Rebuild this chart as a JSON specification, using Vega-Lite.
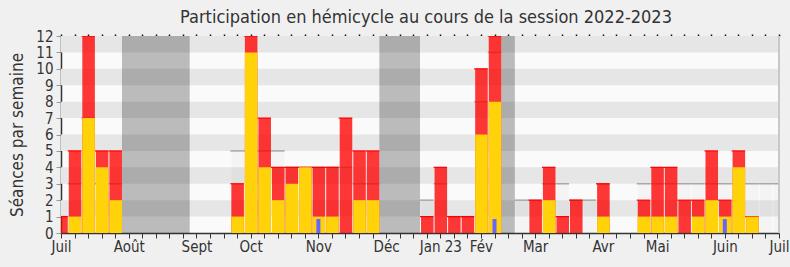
{
  "$schema": "https://vega.github.io/schema/vega-lite/v6.json",
  "width": 718,
  "height": 197,
  "autosize": "none",
  "padding": {"left": 61, "top": 36, "right": 11, "bottom": 34},
  "background": "#f0f0f0",
  "title": {"text": "Participation en hémicycle au cours de la session 2022-2023", "fontSize": 18, "font": "DejaVu Sans Condensed, DejaVu Sans", "fontWeight": "normal", "color": "#333333", "baseline": "alphabetic", "offset": 7, "dx": 6, "dy": 19},
  "config": {
    "view": {"stroke": null, "fill": "#fafafa"},
    "font": "DejaVu Sans Condensed, DejaVu Sans",
    "axisY": {"labelOverlap": false, "labelBound": false, "labelFlush": false, "grid": false,
      "labelFontSize": 15, "labelColor": "#333333", "labelPadding": 3,
      "tickSize": 5, "tickColor": "#999999", "domainColor": "#333333", "domainWidth": 1.5,
      "titleFontSize": 17, "titleFontWeight": "normal", "titleColor": "#333333", "titlePadding": 9}
  },
  "datasets": {
    "bandes": [{"lo": 1, "hi": 2}, {"lo": 3, "hi": 4}, {"lo": 5, "hi": 6}, {"lo": 7, "hi": 8}, {"lo": 9, "hi": 10}, {"lo": 11, "hi": 12}],
    "vacances": [
      {"debut": "2022-08-07", "fin": "2022-09-11"},
      {"debut": "2022-12-18", "fin": "2023-01-08"},
      {"debut": "2023-02-19", "fin": "2023-02-26"}
    ],
    "semaines": [
      {"semaine": "2022-07-04", "presence": 1, "participation": 0, "questions": 0, "mediane": 1},
      {"semaine": "2022-07-11", "presence": 5, "participation": 1, "questions": 0, "mediane": 3},
      {"semaine": "2022-07-18", "presence": 12, "participation": 7, "questions": 0, "mediane": 7},
      {"semaine": "2022-07-25", "presence": 5, "participation": 4, "questions": 0, "mediane": 3},
      {"semaine": "2022-08-01", "presence": 5, "participation": 2, "questions": 0, "mediane": 3},
      {"semaine": "2022-08-08", "presence": 0, "participation": 0, "questions": 0, "mediane": 0},
      {"semaine": "2022-08-15", "presence": 0, "participation": 0, "questions": 0, "mediane": 0},
      {"semaine": "2022-08-22", "presence": 0, "participation": 0, "questions": 0, "mediane": 0},
      {"semaine": "2022-08-29", "presence": 0, "participation": 0, "questions": 0, "mediane": 0},
      {"semaine": "2022-09-05", "presence": 0, "participation": 0, "questions": 0, "mediane": 0},
      {"semaine": "2022-09-12", "presence": 0, "participation": 0, "questions": 0, "mediane": 0},
      {"semaine": "2022-09-19", "presence": 0, "participation": 0, "questions": 0, "mediane": 0},
      {"semaine": "2022-09-26", "presence": 0, "participation": 0, "questions": 0, "mediane": 0},
      {"semaine": "2022-10-03", "presence": 3, "participation": 1, "questions": 0, "mediane": 5},
      {"semaine": "2022-10-10", "presence": 12, "participation": 11, "questions": 0, "mediane": 5},
      {"semaine": "2022-10-17", "presence": 7, "participation": 4, "questions": 0, "mediane": 5},
      {"semaine": "2022-10-24", "presence": 4, "participation": 2, "questions": 0, "mediane": 5},
      {"semaine": "2022-10-31", "presence": 4, "participation": 3, "questions": 0, "mediane": 4},
      {"semaine": "2022-11-07", "presence": 4, "participation": 4, "questions": 0, "mediane": 4},
      {"semaine": "2022-11-14", "presence": 4, "participation": 1, "questions": 0.85, "mediane": 4},
      {"semaine": "2022-11-21", "presence": 4, "participation": 1, "questions": 0, "mediane": 4},
      {"semaine": "2022-11-28", "presence": 7, "participation": 0, "questions": 0, "mediane": 4},
      {"semaine": "2022-12-05", "presence": 5, "participation": 2, "questions": 0, "mediane": 3},
      {"semaine": "2022-12-12", "presence": 5, "participation": 2, "questions": 0, "mediane": 3},
      {"semaine": "2022-12-19", "presence": 0, "participation": 0, "questions": 0, "mediane": 0},
      {"semaine": "2022-12-26", "presence": 0, "participation": 0, "questions": 0, "mediane": 0},
      {"semaine": "2023-01-02", "presence": 0, "participation": 0, "questions": 0, "mediane": 0},
      {"semaine": "2023-01-09", "presence": 1, "participation": 0, "questions": 0, "mediane": 2},
      {"semaine": "2023-01-16", "presence": 4, "participation": 0, "questions": 0, "mediane": 3},
      {"semaine": "2023-01-23", "presence": 1, "participation": 0, "questions": 0, "mediane": 1},
      {"semaine": "2023-01-30", "presence": 1, "participation": 0, "questions": 0, "mediane": 1},
      {"semaine": "2023-02-06", "presence": 10, "participation": 6, "questions": 0, "mediane": 8},
      {"semaine": "2023-02-13", "presence": 12, "participation": 8, "questions": 0.85, "mediane": 11},
      {"semaine": "2023-02-20", "presence": 0, "participation": 0, "questions": 0, "mediane": 0},
      {"semaine": "2023-02-27", "presence": 0, "participation": 0, "questions": 0, "mediane": 2},
      {"semaine": "2023-03-06", "presence": 2, "participation": 0, "questions": 0, "mediane": 2},
      {"semaine": "2023-03-13", "presence": 4, "participation": 2, "questions": 0, "mediane": 3},
      {"semaine": "2023-03-20", "presence": 1, "participation": 0, "questions": 0, "mediane": 3},
      {"semaine": "2023-03-27", "presence": 2, "participation": 0, "questions": 0, "mediane": 2},
      {"semaine": "2023-04-03", "presence": 0, "participation": 0, "questions": 0, "mediane": 2},
      {"semaine": "2023-04-10", "presence": 3, "participation": 1, "questions": 0, "mediane": 3},
      {"semaine": "2023-04-17", "presence": 0, "participation": 0, "questions": 0, "mediane": 0},
      {"semaine": "2023-04-24", "presence": 0, "participation": 0, "questions": 0, "mediane": 0},
      {"semaine": "2023-05-01", "presence": 2, "participation": 1, "questions": 0, "mediane": 3},
      {"semaine": "2023-05-08", "presence": 4, "participation": 1, "questions": 0, "mediane": 3},
      {"semaine": "2023-05-15", "presence": 4, "participation": 1, "questions": 0, "mediane": 3},
      {"semaine": "2023-05-22", "presence": 2, "participation": 0, "questions": 0, "mediane": 3},
      {"semaine": "2023-05-29", "presence": 2, "participation": 1, "questions": 0, "mediane": 3},
      {"semaine": "2023-06-05", "presence": 5, "participation": 2, "questions": 0, "mediane": 3},
      {"semaine": "2023-06-12", "presence": 2, "participation": 1, "questions": 0.85, "mediane": 3},
      {"semaine": "2023-06-19", "presence": 5, "participation": 4, "questions": 0, "mediane": 3},
      {"semaine": "2023-06-26", "presence": 1, "participation": 1, "questions": 0, "mediane": 3},
      {"semaine": "2023-07-03", "presence": 0, "participation": 0, "questions": 0, "mediane": 3},
      {"semaine": "2023-07-10", "presence": 0, "participation": 0, "questions": 0, "mediane": 3}
    ]
  },
  "resolve": {"axis": {"x": "independent"}},
  "layer": [
    {
      "data": {"name": "bandes"},
      "mark": {"type": "rect", "color": "#e6e6e6"},
      "encoding": {
        "x": {"datum": {"year": 2022, "month": 7, "date": 6, "hours": 12, "utc": true}, "type": "temporal",
          "scale": {"type": "utc", "domain": [{"year": 2022, "month": 7, "date": 6, "hours": 12, "utc": true}, {"year": 2023, "month": 7, "date": 12, "hours": 12, "utc": true}], "nice": false},
          "axis": {"title": null, "grid": false, "values": [1657108800000,1657713600000,1658318400000,1658923200000,1659528000000,1660132800000,1660737600000,1661342400000,1661947200000,1662552000000,1663156800000,1663761600000,1664366400000,1664971200000,1665576000000,1666180800000,1666785600000,1667390400000,1667995200000,1668600000000,1669204800000,1669809600000,1670414400000,1671019200000,1671624000000,1672228800000,1672833600000,1673438400000,1674043200000,1674648000000,1675252800000,1675857600000,1676462400000,1677067200000,1677672000000,1678276800000,1678881600000,1679486400000,1680091200000,1680696000000,1681300800000,1681905600000,1682510400000,1683115200000,1683720000000,1684324800000,1684929600000,1685534400000,1686139200000,1686744000000,1687348800000,1687953600000,1688558400000,1689163200000],
            "labelExpr": "indexof([0,5,10,14,19,24,28,31,35,40,44,49,53], round((datum.value - 1657108800000) / 604800000)) < 0 ? '' : (utcmonth(datum.value) == 0 ? 'Jan 23' : ['Jan','Fév','Mar','Avr','Mai','Juin','Juil','Août','Sept','Oct','Nov','Déc'][utcmonth(datum.value)])",
            "labelOverlap": false, "labelFlush": false, "labelBound": false,
            "labelFontSize": 15, "labelColor": "#333333", "labelPadding": 1,
            "tickSize": 5, "tickColor": "#333333", "tickWidth": 1,
            "domainColor": "#333333", "domainWidth": 1.5}
        },
        "x2": {"datum": {"year": 2023, "month": 7, "date": 12, "hours": 12, "utc": true}},
        "y": {"field": "lo", "type": "quantitative", "title": "Séances par semaine",
          "scale": {"domain": [0, 12], "nice": false, "zero": true},
          "axis": {"values": [0,1,2,3,4,5,6,7,8,9,10,11,12], "labelOverlap": false}},
        "y2": {"field": "hi"}
      }
    },
    {
      "data": {"name": "vacances"},
      "mark": {"type": "rect", "color": "#000000", "opacity": 0.25},
      "encoding": {
        "x": {"field": "debut", "type": "temporal", "axis": null},
        "x2": {"field": "fin"},
        "y": {"datum": 0, "type": "quantitative", "title": "Séances par semaine", "axis": {"values": [0,1,2,3,4,5,6,7,8,9,10,11,12], "labelOverlap": false}},
        "y2": {"datum": 12}
      }
    },
    {
      "data": {"name": "semaines"},
      "mark": {"type": "bar", "color": "#000000", "opacity": 0.025, "clip": true, "timeUnitBandSize": 1, "timeUnitBandPosition": 0},
      "encoding": {
        "x": {"field": "semaine", "timeUnit": "utcyearweek", "type": "temporal", "axis": null},
        "y": {"field": "mediane", "type": "quantitative", "title": "Séances par semaine", "axis": {"values": [0,1,2,3,4,5,6,7,8,9,10,11,12], "labelOverlap": false}}
      }
    },
    {
      "data": {"name": "semaines"},
      "transform": [{"filter": "datum.mediane > 0"}],
      "mark": {"type": "tick", "orient": "horizontal", "color": "#a8a8a8", "size": 13.5, "thickness": 1.5, "opacity": 1, "clip": true, "timeUnitBandPosition": 0.5},
      "encoding": {
        "x": {"field": "semaine", "timeUnit": "utcyearweek", "type": "temporal",
          "axis": {"orient": "top", "title": null, "labels": false, "domain": false, "grid": false, "tickSize": 2, "tickColor": "#111111", "tickWidth": 1.5,
            "values": [1657108800000,1657713600000,1658318400000,1658923200000,1659528000000,1660132800000,1660737600000,1661342400000,1661947200000,1662552000000,1663156800000,1663761600000,1664366400000,1664971200000,1665576000000,1666180800000,1666785600000,1667390400000,1667995200000,1668600000000,1669204800000,1669809600000,1670414400000,1671019200000,1671624000000,1672228800000,1672833600000,1673438400000,1674043200000,1674648000000,1675252800000,1675857600000,1676462400000,1677067200000,1677672000000,1678276800000,1678881600000,1679486400000,1680091200000,1680696000000,1681300800000,1681905600000,1682510400000,1683115200000,1683720000000,1684324800000,1684929600000,1685534400000,1686139200000,1686744000000,1687348800000,1687953600000,1688558400000,1689163200000]}},
        "y": {"field": "mediane", "type": "quantitative", "title": "Séances par semaine", "axis": {"values": [0,1,2,3,4,5,6,7,8,9,10,11,12], "labelOverlap": false}}
      }
    },
    {
      "data": {"name": "semaines"},
      "mark": {"type": "bar", "color": "#ff0000", "opacity": 0.78, "clip": true, "timeUnitBandSize": 1, "timeUnitBandPosition": 0},
      "encoding": {
        "x": {"field": "semaine", "timeUnit": "utcyearweek", "type": "temporal", "axis": null},
        "y": {"field": "presence", "type": "quantitative", "title": "Séances par semaine", "axis": {"values": [0,1,2,3,4,5,6,7,8,9,10,11,12], "labelOverlap": false}}
      }
    },
    {
      "data": {"name": "semaines"},
      "transform": [{"filter": "datum.presence > 0"}],
      "mark": {"type": "tick", "orient": "horizontal", "color": "#ff0000", "size": 13.5, "thickness": 1.2, "opacity": 1, "clip": true, "timeUnitBandPosition": 0.5},
      "encoding": {
        "x": {"field": "semaine", "timeUnit": "utcyearweek", "type": "temporal", "axis": null},
        "y": {"field": "presence", "type": "quantitative", "title": "Séances par semaine", "axis": {"values": [0,1,2,3,4,5,6,7,8,9,10,11,12], "labelOverlap": false}}
      }
    },
    {
      "data": {"name": "semaines"},
      "mark": {"type": "bar", "color": "#ffd20a", "opacity": 1, "clip": true, "timeUnitBandSize": 1, "timeUnitBandPosition": 0},
      "encoding": {
        "x": {"field": "semaine", "timeUnit": "utcyearweek", "type": "temporal", "axis": null},
        "y": {"field": "participation", "type": "quantitative", "title": "Séances par semaine", "axis": {"values": [0,1,2,3,4,5,6,7,8,9,10,11,12], "labelOverlap": false}}
      }
    },
    {
      "data": {"name": "semaines"},
      "transform": [{"filter": "datum.questions > 0"}],
      "mark": {"type": "bar", "color": "#6666ff", "opacity": 1, "width": 4, "timeUnitBandPosition": 0.5},
      "encoding": {
        "x": {"field": "semaine", "timeUnit": "utcyearweek", "type": "temporal", "axis": null},
        "y": {"field": "questions", "type": "quantitative", "title": "Séances par semaine", "axis": {"values": [0,1,2,3,4,5,6,7,8,9,10,11,12], "labelOverlap": false}}
      }
    },
    {
      "data": {"values": [{"fin": "2023-07-12T12:00:00Z"}]},
      "mark": {"type": "rule", "color": "#c8c8c8", "strokeWidth": 2},
      "encoding": {
        "x": {"field": "fin", "type": "temporal", "axis": null}
      }
    }
  ]
}
